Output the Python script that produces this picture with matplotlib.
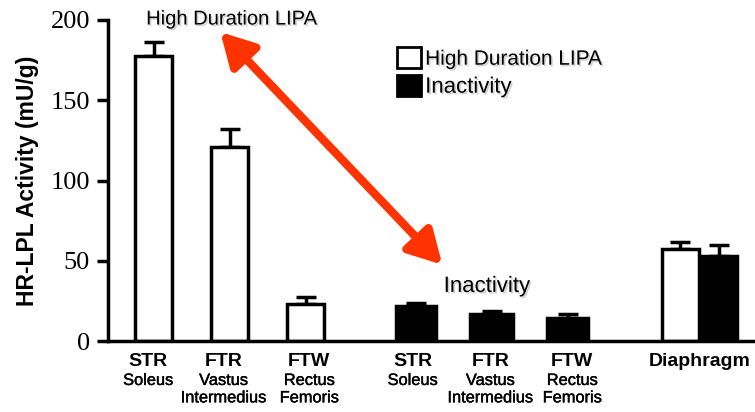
import numpy as np
import matplotlib
matplotlib.use('Agg')
import matplotlib.pyplot as plt
import matplotlib.patheffects as pe
from matplotlib.patches import Patch

# data (mU/g)
muscles = ['STR', 'FTR', 'FTW', 'STR', 'FTR', 'FTW', 'Diaphragm']
sub_names = ['Soleus', 'Vastus\nIntermedius', 'Rectus\nFemoris',
             'Soleus', 'Vastus\nIntermedius', 'Rectus\nFemoris', '']
lipa_vals = [177.7, 120.8, 23.1, 57.3]
lipa_err = [8.7, 11.1, 4.6, 4.4]
inact_vals = [21.5, 16.7, 14.6, 53.1]
inact_err = [2.0, 2.0, 2.1, 6.5]

lipa_x = np.array([0, 1, 2, 6.93])
inact_x = np.array([3.45, 4.45, 5.45, 7.44])
label_x = [-0.07, 0.92, 2.05, 3.41, 4.43, 5.51, 7.19]

plt.rcParams['font.family'] = ['Liberation Sans', 'DejaVu Sans']

fig = plt.figure(figsize=(7.55, 4.12), dpi=100)
ax = fig.add_axes([108/755, 1-341/412, 647/755, 321/412])

lw = 2.5
ax.bar(lipa_x, lipa_vals, width=0.49, color='white', edgecolor='black',
       linewidth=lw, zorder=2)
ax.errorbar(lipa_x, lipa_vals, yerr=[np.zeros(4), lipa_err], fmt='none',
            ecolor='black', elinewidth=lw, capsize=7.5, capthick=lw, zorder=1)
ax.bar(inact_x, inact_vals, width=[0.53, 0.56, 0.54, 0.47], color='black',
       edgecolor='black', linewidth=lw, zorder=2)
ax.errorbar(inact_x, inact_vals, yerr=[np.zeros(4), inact_err], fmt='none',
            ecolor='black', elinewidth=lw, capsize=7.5, capthick=lw, zorder=1)

ax.set_xlim(-0.599, 7.914)
ax.set_ylim(0, 200)
ax.set_yticks([0, 50, 100, 150, 200])
ax.tick_params(axis='y', length=8, width=lw, pad=5, labelsize=19,
               labelfontfamily='Liberation Serif')
ax.set_xticks([])
for s in ['top', 'right']:
    ax.spines[s].set_visible(False)
for s in ['left', 'bottom']:
    ax.spines[s].set_linewidth(lw)

ax.set_ylabel('HR-LPL Activity (mU/g)', fontsize=16.5, fontweight='bold')
ax.yaxis.set_label_coords(-0.106, 0.5)

for x, m, s in zip(label_x, muscles, sub_names):
    ax.annotate(m, xy=(x, 0), xycoords=('data', 'axes fraction'),
                xytext=(0, -15), textcoords='offset points',
                ha='center', va='center', fontsize=14, fontweight='bold')
    if s:
        ax.annotate(s, xy=(x, 0), xycoords=('data', 'axes fraction'),
                    xytext=(0, -23), textcoords='offset points',
                    ha='center', va='top', fontsize=11.8, linespacing=1.2,
                    path_effects=[pe.withStroke(linewidth=0.3,
                                                foreground='black')])

shadow = [pe.withSimplePatchShadow(offset=(1.2, -1.2), shadow_rgbFace='gray',
                                   alpha=0.35)]

# double headed arrow between the two annotations
ax.annotate('', xy=(0.88, 192.5), xytext=(3.8, 47.5),
            arrowprops=dict(arrowstyle='<|-|>,head_length=0.9,head_width=0.5',
                            color='#FF3300', lw=6, mutation_scale=22,
                            shrinkA=0, shrinkB=0))
ax.text(1.026, 200.6, 'High Duration LIPA', ha='center', va='center',
        fontsize=14.5, path_effects=shadow, clip_on=False)
ax.text(4.39, 34, 'Inactivity', ha='center', va='center', fontsize=16,
        path_effects=shadow)

handles = [Patch(facecolor='white', edgecolor='black', linewidth=2),
           Patch(facecolor='black', edgecolor='black', linewidth=2)]
leg = fig.legend(handles, ['High Duration LIPA', 'Inactivity'],
                 loc='upper left', bbox_to_anchor=(397/755, 1-47/412),
                 frameon=False, fontsize=15, borderpad=0, borderaxespad=0,
                 handlelength=1.15, handleheight=1.2, handletextpad=0.2,
                 labelspacing=0.3)
for t in leg.get_texts():
    t.set_path_effects(shadow)
leg.get_texts()[1].set_fontsize(16)

fig.savefig('out.png', dpi=100)
